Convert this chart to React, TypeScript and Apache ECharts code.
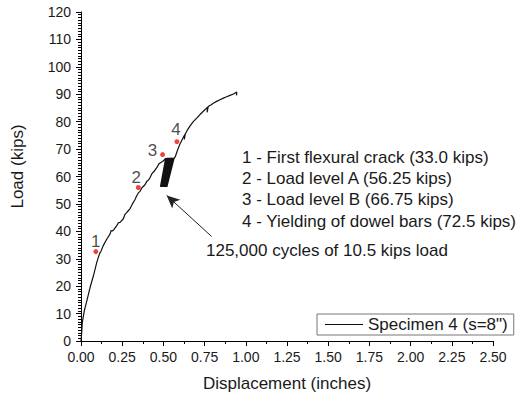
import React, { useEffect, useRef } from "react";
import * as echarts from "echarts";

// Load–displacement curve before the cyclic loading block
const preCycleX = [0, 0.003, 0.008, 0.02, 0.038, 0.055, 0.075, 0.095, 0.105, 0.115, 0.12, 0.135, 0.156, 0.176, 0.183, 0.19, 0.198, 0.216, 0.228, 0.237, 0.257, 0.267, 0.277, 0.288, 0.297, 0.312, 0.328, 0.338, 0.348, 0.358, 0.37, 0.388, 0.4, 0.41, 0.419, 0.432, 0.443, 0.452, 0.462, 0.472, 0.482, 0.495, 0.505];
const preCycleY = [0, 2, 6.8, 11, 15.3, 19.5, 23.7, 28.5, 30.5, 32.2, 32.5, 34.8, 37.1, 39.0, 40.3, 40.1, 40.5, 42.0, 43.2, 43.3, 44.6, 46.2, 46.8, 47.6, 48.2, 50.0, 51.6, 53.0, 54.0, 54.6, 55.9, 57.0, 58.3, 58.7, 59.6, 61.2, 61.8, 62.6, 63.4, 64.6, 65.0, 65.5, 66.0];

// Cyclic loading block (125,000 cycles between load level A and B)
const cycleLow = 56.25;
const cycleHigh = 66.75;
const cycleTopX = [0.514, 0.517, 0.520, 0.524, 0.527, 0.530, 0.534, 0.537, 0.540, 0.544, 0.547, 0.550, 0.554, 0.557, 0.561, 0.565];
const cycleBottomX = [0.482, 0.485, 0.488, 0.490, 0.493, 0.496, 0.499, 0.502, 0.505, 0.508, 0.511, 0.513, 0.516, 0.518, 0.521];

// Curve after the cyclic loading block
const postCycleX = [0.572, 0.585, 0.6, 0.615, 0.63, 0.627, 0.633, 0.648, 0.661, 0.68, 0.702, 0.722, 0.742, 0.76, 0.768, 0.765, 0.772, 0.79, 0.805, 0.823, 0.843, 0.864, 0.884, 0.904, 0.925, 0.945, 0.944];
const postCycleY = [67.2, 69.5, 71.8, 73.6, 75.3, 73.5, 75.5, 77.2, 78.4, 79.9, 81.3, 82.6, 83.8, 84.8, 85.3, 83.4, 85.5, 86.2, 86.8, 87.4, 88.0, 88.6, 89.1, 89.6, 90.1, 90.8, 89.6];

// Marked events
const eventNames = ["1", "2", "3", "4"];
const eventX = [0.09, 0.348, 0.495, 0.582];
const eventY = [32.6, 56.0, 68.0, 72.7];

const noteLines = [
  "1 - First flexural crack (33.0 kips)",
  "2 - Load level A (56.25 kips)",
  "3 - Load level B (66.75 kips)",
  "4 - Yielding of dowel bars (72.5 kips)",
];
const cycleNote = "125,000 cycles of 10.5 kips load";
const arrowFrom = [0.793, 38.1];
const arrowTo = [0.52, 53.1];

const seriesName = 'Specimen 4 (s=8")';

const xTicks = { min: 0, max: 2.5, interval: 0.25 };
const yTicks = { min: 0, max: 120, interval: 10 };

export default function App() {
  const ref = useRef<HTMLDivElement>(null);

  useEffect(() => {
    if (!ref.current) return;
    const chart = echarts.init(ref.current, undefined, { renderer: "svg" });

    const curve: number[][] = [];
    preCycleX.forEach((x, i) => curve.push([x, preCycleY[i]]));
    cycleTopX.forEach((x, i) => {
      curve.push([x, cycleHigh]);
      if (i < cycleBottomX.length) curve.push([cycleBottomX[i], cycleLow]);
    });
    postCycleX.forEach((x, i) => curve.push([x, postCycleY[i]]));

    const labelOffsets = [[0, 1], [-2, 1], [-10, 7], [-1, -1]];
    const events = eventNames.map((n, i) => ({
      name: n,
      value: [eventX[i], eventY[i]],
      label: { offset: labelOffsets[i] },
    }));

    const font = "Liberation Sans, Arial, sans-serif";
    const textColor = "#1a1a1a";

    const option: any = {
      animation: false,
      backgroundColor: "#fff",
      grid: { left: 81, right: 37, top: 12, bottom: 55 },
      legend: {
        data: [{ name: seriesName, icon: "rect", itemStyle: { color: "#111" } }],
        left: 317,
        top: 314,
        orient: "horizontal",
        padding: [2, 6, 2, 8],
        itemWidth: 38,
        itemHeight: 1.2,
        borderColor: "#777",
        borderWidth: 1,
        borderRadius: 0,
        selectedMode: false,
        textStyle: { fontFamily: font, fontSize: 17, color: textColor, lineHeight: 17 },
      },
      xAxis: {
        type: "value",
        min: xTicks.min,
        max: xTicks.max,
        interval: xTicks.interval,
        name: "Displacement (inches)",
        nameLocation: "middle",
        nameGap: 34,
        nameTextStyle: { fontFamily: font, fontSize: 17, color: textColor },
        axisLine: { show: true, onZero: false, lineStyle: { color: "#000", width: 1 } },
        axisTick: { show: true, length: 5, lineStyle: { color: "#000" } },
        minorTick: { show: true, splitNumber: 2, length: 3, lineStyle: { color: "#000" } },
        splitLine: { show: false },
        axisLabel: {
          fontFamily: font,
          fontSize: 14,
          color: textColor,
          margin: 9,
          formatter: (v: number) => v.toFixed(2),
        },
      },
      yAxis: {
        type: "value",
        min: yTicks.min,
        max: yTicks.max,
        interval: yTicks.interval,
        name: "Load (kips)",
        nameLocation: "middle",
        nameGap: 55,
        nameTextStyle: { fontFamily: font, fontSize: 17, color: textColor, padding: [0, 0, 0, 20] },
        axisLine: { show: true, onZero: false, lineStyle: { color: "#000", width: 1 } },
        axisTick: { show: true, length: 5, lineStyle: { color: "#000" } },
        minorTick: { show: true, splitNumber: 10, length: 3, lineStyle: { color: "#000" } },
        splitLine: { show: false },
        axisLabel: { fontFamily: font, fontSize: 14, color: textColor, margin: 10 },
      },
      series: [
        {
          name: seriesName,
          type: "line",
          data: curve,
          symbol: "none",
          lineStyle: { color: "#111", width: 1.2 },
          itemStyle: { color: "#111" },
          z: 3,
        },
        {
          name: "events",
          type: "scatter",
          data: events,
          symbolSize: 5,
          itemStyle: { color: "#ee1111" },
          label: {
            show: true,
            position: "top",
            distance: 0,
            formatter: "{b}",
            fontFamily: font,
            fontSize: 17,
            color: textColor,
          },
          z: 4,
          markLine: {
            silent: true,
            symbol: ["none", "arrow"],
            symbolSize: [9, 13],
            label: { show: false },
            lineStyle: { color: "#222", width: 1, type: "solid" },
            data: [[{ coord: arrowFrom }, { coord: arrowTo }]],
          },
        },
      ],
      graphic: [
        ...noteLines.map((t, i) => ({
          type: "text",
          left: 242,
          top: 149 + i * 21.2,
          style: { text: t, font: `17px ${font}`, fill: textColor },
        })),
        {
          type: "text",
          left: 206,
          top: 242,
          style: { text: cycleNote, font: `17px ${font}`, fill: textColor },
        },
      ],
    };

    chart.setOption(option);
    return () => chart.dispose();
  }, []);

  return <div ref={ref} style={{ width: 530, height: 397, position: "absolute", left: 0, top: 0 }} />;
}
